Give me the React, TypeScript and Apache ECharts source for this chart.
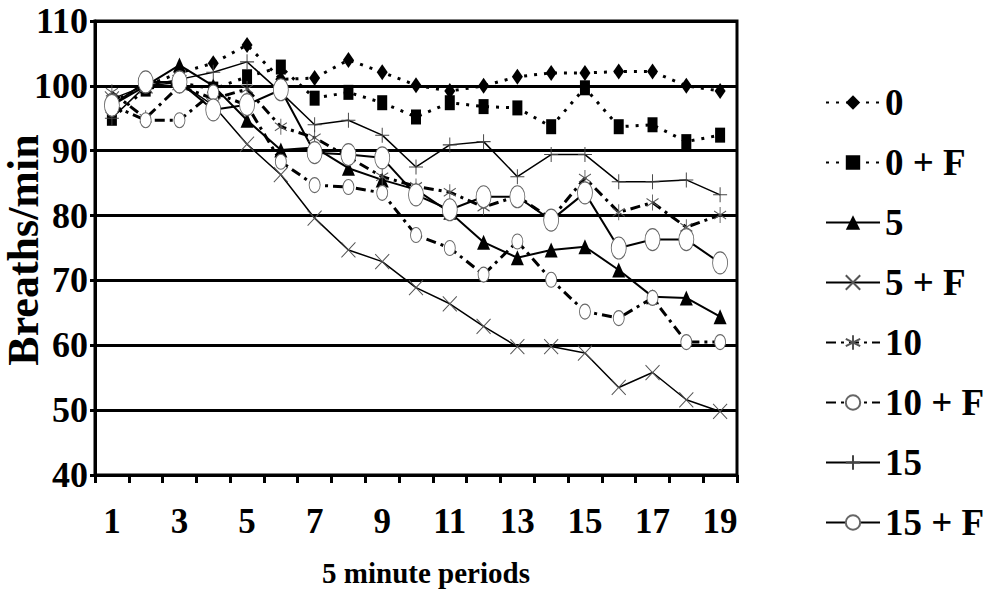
import React, { useEffect, useRef } from "react";
import * as echarts from "echarts";

const periods = ["1","2","3","4","5","6","7","8","9","10","11","12","13","14","15","16","17","18","19"];
const s0 = [97.5, 100, 102, 103.5, 106.3, 101, 101.2, 104, 102.1, 100.1, 99.2, 100, 101.4, 102, 102, 102.2, 102.2, 100, 99.2];
const s0F = [95, 99.5, 100.5, 99.5, 101.4, 102.9, 98.1, 99, 97.4, 95.2, 97.4, 96.8, 96.6, 93.7, 99.7, 93.7, 94, 91.4, 92.4];
const s5 = [97, 100, 103.2, 100, 94.7, 90.1, 90.5, 87.3, 85.5, 84, 80.5, 75.9, 73.5, 74.7, 75.2, 71.6, 67.5, 67.3, 64.4];
const s5F = [98, 100, 100.5, 97, 91, 86.3, 79.6, 74.7, 72.9, 68.9, 66.4, 62.9, 59.8, 59.8, 58.8, 53.5, 55.8, 51.6, 49.8];
const s10 = [99, 95, 100, 98, 99.5, 93.7, 92, 89, 86, 84.5, 83.6, 81.3, 83, 79.5, 85.8, 80.5, 82, 78.2, 80.1];
const s10F = [97, 94.7, 94.7, 99, 97, 88.3, 84.7, 84.4, 83.5, 77, 75, 70.9, 76, 70.1, 65.2, 64.2, 67.3, 60.5, 60.5];
const s15 = [95, 100, 101, 102.1, 103.7, 99, 94, 94.7, 92.4, 87.5, 90.9, 91.4, 86, 89.4, 89.4, 85.2, 85.2, 85.5, 83.2];
const s15F = [97, 100.6, 100.6, 96.3, 97.1, 99.4, 89.7, 89.4, 88.9, 83.2, 80.9, 82.9, 82.9, 79.3, 83.5, 75, 76.3, 76.3, 72.7];
const seriesNames = ["0", "0 + F", "5", "5 + F", "10", "10 + F", "15", "15 + F"];
const yTicks = { min: 40, max: 110, interval: 10 };
const xTitle = "5 minute periods";
const yTitle = "Breaths/min";

const FONT = "Liberation Serif";
const X_SYM = "path://M0,0L10,10M10,0L0,10";
const STAR_SYM = "path://M5,0L5,10M0.7,2.5L9.3,7.5M0.7,7.5L9.3,2.5";
const PLUS_SYM = "path://M5,0L5,10M0,5L10,5";
const CIRC_SYM = "path://M5,0A5,5 0 1 1 5,10A5,5 0 1 1 5,0Z";

export default function App() {
  const ref = useRef<HTMLDivElement>(null);
  useEffect(() => {
    if (!ref.current) return;
    const chart = echarts.init(ref.current, null, { renderer: "svg" });
    const mk = (name: string, data: number[], lineType: any, lineWidth: number, symbol: string, symbolSize: any, item: any) => ({
      name,
      type: "line",
      data,
      symbol,
      symbolSize,
      showSymbol: true,
      lineStyle: { color: "#000", width: lineWidth, type: lineType },
      itemStyle: item,
      emphasis: { disabled: true },
    });
    const datasets = [s0, s0F, s5, s5F, s10, s10F, s15, s15F];
    const series = [
      mk(seriesNames[0], datasets[0], [3, 7], 3, "diamond", [11, 16], { color: "#000" }),
      mk(seriesNames[1], datasets[1], [3, 7], 3, "rect", [10, 15], { color: "#000" }),
      mk(seriesNames[2], datasets[2], "solid", 2, "triangle", [13, 15], { color: "#000" }),
      mk(seriesNames[3], datasets[3], "solid", 1.5, X_SYM, [14, 15], { color: "#fff", borderColor: "#555", borderWidth: 1 }),
      mk(seriesNames[4], datasets[4], [10, 5, 3, 5], 3, STAR_SYM, [12, 16], { color: "#fff", borderColor: "#555", borderWidth: 1 }),
      mk(seriesNames[5], datasets[5], [10, 5, 3, 5], 3, CIRC_SYM, [11, 15], { color: "#fff", borderColor: "#666", borderWidth: 1 }),
      mk(seriesNames[6], datasets[6], "solid", 1.5, PLUS_SYM, [14, 15], { color: "#fff", borderColor: "#444", borderWidth: 1 }),
      mk(seriesNames[7], datasets[7], "solid", 2, CIRC_SYM, [15, 22], { color: "#fff", borderColor: "#666", borderWidth: 1 }),
    ];
    chart.setOption({
      animation: false,
      backgroundColor: "#fff",
      grid: {
        left: 95,
        right: 251,
        top: 21,
        bottom: 121,
        show: true,
        borderColor: "#000",
        borderWidth: 3,
        containLabel: false,
        outerBoundsMode: "none",
      },
      legend: {
        orient: "vertical",
        left: 820,
        top: 79,
        itemWidth: 54,
        itemHeight: 18,
        itemGap: 23,
        data: seriesNames,
        textStyle: { fontFamily: FONT, fontWeight: "bold", fontSize: 37, color: "#000" },
      },
      graphic: [
        {
          type: "text",
          x: 23,
          y: 250,
          rotation: Math.PI / 2,
          style: { text: yTitle, align: "center", verticalAlign: "middle", font: `bold 44px "${FONT}"`, fill: "#000" },
        },
        {
          type: "text",
          x: 426,
          y: 573,
          style: { text: xTitle, align: "center", verticalAlign: "middle", font: `bold 29px "${FONT}"`, fill: "#000" },
        },
      ],
      xAxis: {
        type: "category",
        data: periods,
        boundaryGap: true,
        axisLine: { show: true, lineStyle: { color: "#000", width: 3 } },
        axisTick: { show: true, interval: 0, length: 8, lineStyle: { color: "#000", width: 3 } },
        axisLabel: { interval: 1, margin: 29, fontFamily: FONT, fontWeight: "bold", fontSize: 35, color: "#000" },
        splitLine: { show: false },
      },
      yAxis: {
        type: "value",
        min: yTicks.min,
        max: yTicks.max,
        interval: yTicks.interval,
        axisLine: { show: true, lineStyle: { color: "#000", width: 3 } },
        axisTick: { show: true, length: 5, lineStyle: { color: "#000", width: 3 } },
        axisLabel: { margin: 7, fontFamily: FONT, fontWeight: "bold", fontSize: 36, color: "#000" },
        splitLine: { show: true, lineStyle: { color: "#000", width: 3 } },
      },
      series,
    });
    return () => chart.dispose();
  }, []);
  return <div ref={ref} style={{ position: "fixed", left: 0, top: 0, width: 988, height: 596 }} />;
}
